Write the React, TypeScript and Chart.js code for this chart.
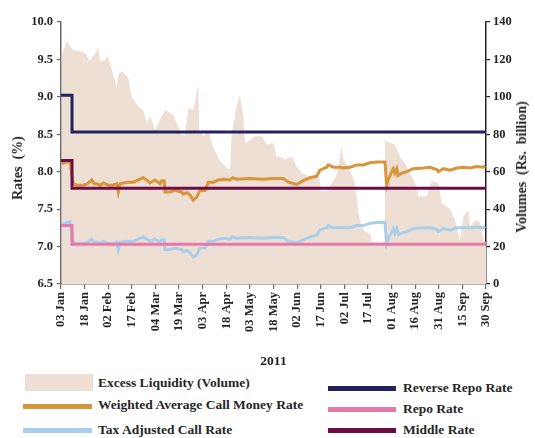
import React, { useEffect, useRef } from "react";
import { Chart, registerables } from "chart.js";

Chart.register(...registerables);

// X axis: day offsets from 03 Jan 2011; ticks every 15 days
const tickLabels = [
  "03 Jan", "18 Jan", "02 Feb", "17 Feb", "04 Mar", "19 Mar", "03 Apr", "18 Apr",
  "03 May", "18 May", "02 Jun", "17 Jun", "02 Jul", "17 Jul", "01 Aug", "16 Aug",
  "31 Aug", "15 Sep", "30 Sep",
];

// Excess liquidity (Rs. billion)
const volumeDays = [
  0.4, 3.6, 7.6, 12, 15.9, 18, 21.6, 23.7, 24.8, 28, 29.2, 32.2, 35.4, 36.4, 38.6, 42.8,
  44.9, 49.1, 52.3, 54.4, 56.5, 59.7, 66.1, 71.3, 73.5, 76.7, 78.8, 80.9, 84, 87.2, 87.7,
  90.4, 93.6, 96.8, 101, 105.3, 107.4, 108.4, 111.6, 113.7, 115.8, 116.9, 120, 123.2,
  127.5, 130.7, 134.9, 137, 139.1, 142.3, 146.6, 149.7, 152.9, 158.2, 163.5, 165.6,
  168.8, 172, 175.2, 178.3, 179.3, 182.5, 186.8, 188.9, 191, 193.1, 196.3, 197.4, 202.7,
  205.2, 205.8, 209, 212.2, 215.4, 218.5, 222.8, 226, 227, 232.3, 235.5, 239.7, 241.9,
  245, 247.1, 250.3, 253.5, 255.6, 258.8, 259.8, 263, 266.2, 268.3, 270,
];
const volumes = [
  121.8, 129.9, 125, 124.5, 123, 119, 123, 126, 119, 119.5, 122.7, 114.7, 104.9, 112,
  113.8, 110, 100, 95, 93, 86, 89.7, 82.5, 93, 90.6, 86, 80, 79, 94, 93, 106.6, 82.5, 79,
  82.5, 72.7, 66, 62, 61, 80.7, 95, 101, 89.7, 75, 77, 79, 79, 74.5, 75.4, 68, 68, 66.5,
  68, 62.9, 59.3, 57.5, 57.5, 49.5, 49.5, 54, 58.4, 73.6, 66.5, 62.9, 54, 37.9, 30.7, 28,
  27, 22.7, 22, 23, 77, 75.4, 74.5, 68, 64.6, 57.5, 52, 46.8, 47, 55, 54, 43, 41.5, 40,
  34, 23.6, 36, 39.7, 30.7, 34, 33, 23.6, 22,
];

// Call money rates (%)
const rateDays = [
  0.4, 5.7, 7.8, 10, 14.2, 17, 19.5, 21, 22.7, 24.8, 26.9, 30, 33, 35.4, 36.4, 37.5, 41.7,
  45.9, 49.1, 52.3, 54.4, 56.5, 59.7, 62.9, 64, 65.5, 66.1, 69.2, 72.4, 76.7, 77.7, 80,
  82, 84, 86.2, 88.3, 91.5, 93.6, 96.8, 100, 103.1, 107.4, 109, 111.6, 120, 128.5, 134.9,
  141.2, 144.4, 149.7, 153.9, 158.2, 162.4, 164.5, 168.8, 169.8, 173, 177.2, 179.3, 183.6,
  187.8, 192, 196.3, 200.6, 205.8, 206.9, 207.9, 210.1, 211.1, 212.2, 213.3, 214.3, 216.4,
  219.6, 223.8, 230.2, 234.4, 238.7, 239.7, 242.9, 247.1, 251.4, 255.6, 259.8, 264.1,
  268.3, 269.4,
];
const callMoneyRate = [
  8.11, 8.14, 7.84, 7.82, 7.82, 7.84, 7.89, 7.84, 7.84, 7.82, 7.85, 7.82, 7.82, 7.84, 7.73,
  7.84, 7.86, 7.86, 7.89, 7.92, 7.89, 7.85, 7.89, 7.84, 7.88, 7.88, 7.73, 7.73, 7.75, 7.73,
  7.7, 7.72, 7.69, 7.62, 7.66, 7.75, 7.75, 7.86, 7.86, 7.89, 7.9, 7.89, 7.92, 7.9, 7.91,
  7.9, 7.91, 7.91, 7.86, 7.83, 7.88, 7.92, 7.94, 8.02, 8.06, 8.09, 8.06, 8.06, 8.05, 8.06,
  8.09, 8.09, 8.12, 8.13, 8.13, 7.82, 7.89, 8.0, 8.04, 7.98, 8.04, 7.95, 7.98, 8.0, 8.04,
  8.05, 8.06, 8.03, 8.0, 8.04, 8.02, 8.05, 8.06, 8.05, 8.07, 8.06, 8.08,
];
const taxAdjustedRate = [
  7.3, 7.33, 7.06, 7.04, 7.04, 7.06, 7.1, 7.06, 7.06, 7.04, 7.07, 7.04, 7.04, 7.06, 6.96,
  7.06, 7.07, 7.07, 7.1, 7.13, 7.1, 7.07, 7.1, 7.06, 7.09, 7.09, 6.96, 6.96, 6.98, 6.96,
  6.93, 6.95, 6.92, 6.86, 6.89, 6.98, 6.98, 7.07, 7.07, 7.1, 7.11, 7.1, 7.13, 7.11, 7.12,
  7.11, 7.12, 7.12, 7.07, 7.05, 7.09, 7.13, 7.15, 7.22, 7.25, 7.28, 7.25, 7.25, 7.25, 7.25,
  7.28, 7.28, 7.31, 7.32, 7.32, 7.04, 7.1, 7.2, 7.24, 7.18, 7.24, 7.16, 7.18, 7.2, 7.24,
  7.25, 7.25, 7.23, 7.2, 7.24, 7.22, 7.25, 7.25, 7.25, 7.26, 7.25, 7.27,
];

// Policy rates (%)
const policyDays = [0, 7, 270];
const reverseRepoRate = [9.02, 8.53, 8.53];
const repoRate = [7.28, 7.03, 7.03];
const middleRate = [8.15, 7.78, 7.78];

const COLORS = {
  area: "#EEDFD4",
  orange: "#D8953A",
  lightBlue: "#A9CFEC",
  navy: "#23215E",
  pink: "#E679A9",
  maroon: "#6C0D46",
  text: "#262626",
  axis: "#6a6a6a",
};

const FONT = "'Liberation Serif', 'Times New Roman', serif";

function pts(xs: number[], ys: number[]) {
  return xs.map((x, i) => ({ x, y: ys[i] }));
}

const legendLeft = [
  { label: "Excess Liquidity (Volume)", color: COLORS.area, box: true, top: 374, textY: 383 },
  { label: "Weighted Average Call Money Rate", color: COLORS.orange, box: false, top: 404, textY: 405 },
  { label: "Tax Adjusted Call Rate", color: COLORS.lightBlue, box: false, top: 428, textY: 430 },
];
const legendRight = [
  { label: "Reverse Repo Rate", color: COLORS.navy, top: 386, textY: 388 },
  { label: "Repo Rate", color: COLORS.pink, top: 407, textY: 409 },
  { label: "Middle Rate", color: COLORS.maroon, top: 428, textY: 430 },
];

export default function App() {
  const ref = useRef<HTMLCanvasElement | null>(null);

  useEffect(() => {
    if (!ref.current) return;
    const lineDs = (label: string, xs: number[], ys: number[], color: string, extra: any = {}) => ({
      type: "line" as const,
      label,
      data: pts(xs, ys),
      borderColor: color,
      backgroundColor: color,
      borderWidth: 3,
      pointRadius: 0,
      tension: 0,
      fill: false,
      yAxisID: "y",
      ...extra,
    });
    const chart = new Chart(ref.current, {
      type: "line",
      data: {
        datasets: [
          lineDs("Reverse Repo Rate", policyDays, reverseRepoRate, COLORS.navy, { stepped: "before", order: 1 }),
          lineDs("Repo Rate", policyDays, repoRate, COLORS.pink, { stepped: "before", order: 1 }),
          lineDs("Middle Rate", policyDays, middleRate, COLORS.maroon, { stepped: "before", order: 1 }),
          lineDs("Weighted Average Call Money Rate", rateDays, callMoneyRate, COLORS.orange, { order: 2 }),
          lineDs("Tax Adjusted Call Rate", rateDays, taxAdjustedRate, COLORS.lightBlue, { order: 2 }),
          {
            type: "line" as const,
            label: "Excess Liquidity (Volume)",
            data: pts(volumeDays, volumes),
            borderWidth: 0,
            borderColor: COLORS.area,
            backgroundColor: COLORS.area,
            pointRadius: 0,
            tension: 0,
            fill: "origin",
            yAxisID: "y1",
            order: 3,
          },
        ],
      },
      options: {
        animation: false,
        responsive: false,
        layout: { padding: { top: 22, left: 0, right: 0, bottom: 0 } },
        plugins: { legend: { display: false }, tooltip: { enabled: false } },
        scales: {
          x: {
            type: "linear",
            min: 0,
            max: 270,
            afterFit: (s: any) => {
              s.height = 88;
            },
            ticks: {
              stepSize: 15,
              autoSkip: false,
              maxRotation: 90,
              minRotation: 90,
              padding: 3,
              color: COLORS.text,
              font: { family: FONT, size: 12.5, weight: "bold" },
              callback: (v: any) => tickLabels[Math.round(Number(v) / 15)] ?? "",
            },
            grid: { drawOnChartArea: false, tickLength: 5, color: COLORS.axis, lineWidth: 1.2 },
            border: { color: COLORS.axis, width: 1.5 },
            title: {
              display: true,
              text: "2011",
              color: COLORS.text,
              font: { family: FONT, size: 13.5, weight: "bold" },
              padding: { top: 0, bottom: 2 },
            },
          },
          y: {
            type: "linear",
            position: "left",
            min: 6.5,
            max: 10,
            afterFit: (s: any) => {
              s.width = 61;
            },
            ticks: {
              stepSize: 0.5,
              padding: 4,
              color: COLORS.text,
              font: { family: FONT, size: 12.5, weight: "bold" },
              callback: (v: any) => Number(v).toFixed(1),
            },
            grid: { drawOnChartArea: false, tickLength: 4, color: COLORS.axis, lineWidth: 1.2 },
            border: { color: COLORS.axis, width: 1.5 },
          },
          y1: {
            type: "linear",
            position: "right",
            min: 0,
            max: 140,
            afterFit: (s: any) => {
              s.width = 49;
            },
            ticks: {
              stepSize: 20,
              padding: 3,
              color: COLORS.text,
              font: { family: FONT, size: 12.5, weight: "bold" },
            },
            grid: { drawOnChartArea: false, tickLength: 4, color: "#222", lineWidth: 1.2 },
            border: { color: "#222", width: 1.5 },
          },
        },
      },
    } as any);
    return () => chart.destroy();
  }, []);

  const textStyle = (left: number, cy: number): React.CSSProperties => ({
    position: "absolute",
    left,
    top: cy - 8,
    lineHeight: "16px",
    fontFamily: FONT,
    fontSize: 13.5,
    fontWeight: "bold",
    color: COLORS.text,
    whiteSpace: "nowrap",
  });

  const rotTitle = (cx: number, cy: number): React.CSSProperties => ({
    position: "absolute",
    left: cx,
    top: cy,
    transform: "translate(-50%, -50%) rotate(-90deg)",
    fontFamily: FONT,
    fontSize: 14,
    fontWeight: "bold",
    color: COLORS.text,
    whiteSpace: "nowrap",
    lineHeight: "16px",
  });

  return (
    <div style={{ position: "absolute", left: 0, top: 0, width: 535, height: 438, background: "#fff", overflow: "hidden" }}>
      <canvas ref={ref} width={535} height={372} style={{ position: "absolute", left: 0, top: 0, width: 535, height: 372 }} />
      <div style={rotTitle(18, 168)}>Rates&nbsp;&nbsp;(%)</div>
      <div style={rotTitle(522, 167)}>Volumes&nbsp;&nbsp;(Rs.&nbsp;&nbsp;billion)</div>
      {legendLeft.map((it) => (
        <React.Fragment key={it.label}>
          <div
            style={{
              position: "absolute",
              left: it.box ? 25 : 23,
              top: it.top,
              width: it.box ? 68 : 69,
              height: it.box ? 17 : 5,
              background: it.color,
            }}
          />
          <div style={textStyle(98, it.textY)}>{it.label}</div>
        </React.Fragment>
      ))}
      {legendRight.map((it) => (
        <React.Fragment key={it.label}>
          <div style={{ position: "absolute", left: 328, top: it.top, width: 68, height: 5, background: it.color }} />
          <div style={textStyle(403, it.textY)}>{it.label}</div>
        </React.Fragment>
      ))}
    </div>
  );
}
